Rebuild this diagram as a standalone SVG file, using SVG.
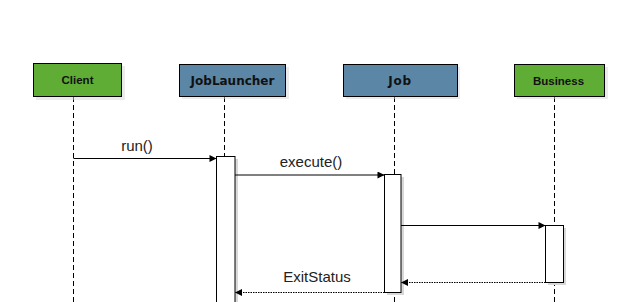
<svg xmlns="http://www.w3.org/2000/svg" width="642" height="302" viewBox="0 0 642 302">
<style>
.hdr{stroke:#000;stroke-width:1}
.green{fill:#60ad35}
.blue{fill:#5b86a6}
.shadow{fill:#d8d8d8}
.t1{font-family:"Liberation Sans",Arial,sans-serif;font-weight:bold;font-size:11.5px;fill:#111}
.t2{font-family:"DejaVu Sans",Verdana,sans-serif;font-weight:bold;font-size:12px;fill:#111}
.life{stroke:#000;stroke-width:1;stroke-dasharray:5,3;fill:none}
.act{fill:#fff;stroke:#000;stroke-width:1}
.msg{stroke:#000;stroke-width:1;fill:none}
.ret{stroke:#000;stroke-width:1;stroke-dasharray:1.5,1;fill:none}
.lbl{font-family:"Liberation Sans",Arial,sans-serif;font-size:15px;fill:#222}
</style>
<defs>
<marker id="ah" viewBox="0 0 10 10" refX="10" refY="5" markerWidth="8" markerHeight="7" markerUnits="userSpaceOnUse" orient="auto">
<path d="M0,0 L10,5 L0,10 z" fill="#000"/>
</marker>
</defs>
<rect width="642" height="302" fill="#fff"/>
<g id="lifelines">
<line class="life" x1="73.5" y1="97" x2="73.5" y2="302"/>
<line class="life" x1="224.5" y1="97" x2="224.5" y2="302"/>
<line class="life" x1="394.5" y1="97" x2="394.5" y2="302"/>
<line class="life" x1="554.5" y1="97" x2="554.5" y2="302"/>
</g>
<g id="client">
<rect class="shadow" x="36" y="66" width="89" height="34" opacity="0.5"/>
<rect class="hdr green" x="33.5" y="63.5" width="88" height="33"/>
<text class="t1" x="77.5" y="84" text-anchor="middle">Client</text>
</g>
<g id="joblauncher">
<rect class="shadow" x="182" y="67" width="107" height="32" opacity="0.5"/>
<rect class="hdr blue" x="179.5" y="64.5" width="106" height="32"/>
<text class="t2" x="232.5" y="85" text-anchor="middle">JobLauncher</text>
</g>
<g id="job">
<rect class="shadow" x="346" y="67" width="114" height="32" opacity="0.5"/>
<rect class="hdr blue" x="343.5" y="64.5" width="114" height="32"/>
<text class="t2" x="400" y="85" text-anchor="middle" letter-spacing="0.8">Job</text>
</g>
<g id="business">
<rect class="shadow" x="517" y="67" width="91" height="32" opacity="0.5"/>
<rect class="hdr green" x="514.5" y="64.5" width="90" height="32"/>
<text class="t1" x="558.5" y="85" text-anchor="middle">Business</text>
</g>
<g id="activations">
<rect class="shadow" x="219" y="159" width="19" height="150"/>
<rect class="act" x="216.5" y="156.5" width="18.5" height="150"/>
<rect class="shadow" x="387" y="177" width="17" height="118"/>
<rect class="act" x="384.5" y="174.5" width="16.5" height="118"/>
<rect class="shadow" x="548" y="228" width="18" height="57"/>
<rect class="act" x="545.5" y="225.5" width="18" height="57"/>
</g>
<g id="connectors">
<line class="msg" x1="73.5" y1="158.5" x2="216.5" y2="158.5" marker-end="url(#ah)"/>
<line class="msg" x1="235" y1="175" x2="384.5" y2="175" marker-end="url(#ah)"/>
<line class="msg" x1="401" y1="225.5" x2="545.5" y2="225.5" marker-end="url(#ah)"/>
<line class="ret" x1="545.5" y1="282.5" x2="401" y2="282.5" marker-end="url(#ah)"/>
<line class="ret" x1="384.5" y1="292.5" x2="235" y2="292.5" marker-end="url(#ah)"/>
</g>
<g id="labels">
<text class="lbl" x="137" y="151" text-anchor="middle">run()</text>
<text class="lbl" x="311" y="167" text-anchor="middle">execute()</text>
<text class="lbl" x="317" y="282" text-anchor="middle">ExitStatus</text>
</g>
</svg>
